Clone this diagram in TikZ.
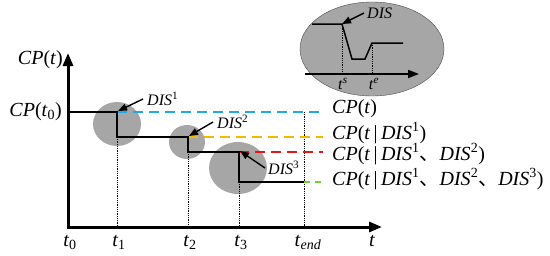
\documentclass[tikz,border=0pt]{standalone}
\usepackage{fontspec}
\setmainfont{Liberation Serif}
\newfontfamily\cjk{Noto Sans CJK SC}
\usetikzlibrary{arrows.meta}
\definecolor{dgray}{RGB}{166,166,166}
\definecolor{cblue}{RGB}{30,170,230}
\definecolor{corange}{RGB}{245,185,0}
\definecolor{cred}{RGB}{235,20,20}
\definecolor{cgreen}{RGB}{120,205,50}
\tikzset{
  big/.style={font=\fontsize{20}{24}\selectfont, inner sep=0pt},
  small/.style={font=\fontsize{16}{19}\selectfont, inner sep=0pt},
  axisline/.style={line width=3pt, -{Triangle[length=13pt,width=10pt]}},
  stepline/.style={line width=2.2pt},
  dashline/.style={line width=2.4pt, dash pattern=on 10pt off 6pt},
  guide/.style={line width=0.8pt, densely dotted},
  disarrow/.style={line width=1.4pt, -{Triangle[length=9pt,width=7pt]}},
  blob/.style={fill=dgray, draw=none},
}
\newcommand{\ii}[1]{\textit{#1}}
\newcommand{\sep}{{\cjk 、}}
\begin{document}
\begin{tikzpicture}[x=1pt,y=-1pt]
\useasboundingbox (0,0) rectangle (550,255);
% inset
\fill[dgray, draw=gray!60!black, line width=0.4pt] (372,49) ellipse [x radius=72, y radius=47];
\coordinate (ia) at (312,24);
\coordinate (ib) at (342,24);
\coordinate (ic) at (352,59);
\coordinate (id) at (365,59);
\coordinate (ie) at (372,43);
\coordinate (if) at (403,43);
\coordinate (iax0) at (305,74);
\coordinate (iax1) at (419,74);
\coordinate (ibs) at (342,74);
\coordinate (ies) at (372,74);
\draw[line width=1.5pt] (ia) -- (ib) -- (ic) -- (id) -- (ie) -- (if);
\draw[line width=2pt, -{Triangle[length=11pt,width=8pt]}] (iax0) -- (iax1);
\draw[guide] (ib) -- (ibs);
\draw[guide] (ie) -- (ies);
\node[small] (ts) at (343,84) {\ii{t}\textsuperscript{\ii{s}}};
\node[small] (te) at (374,84) {\ii{t}\textsuperscript{\ii{e}}};
\node[small, anchor=west] (idis) at (367,13) {\ii{DIS}};
\draw[disarrow] ([xshift=-3pt]idis.west) -- (ib);

% blobs
\fill[blob] (117,124) ellipse [x radius=24, y radius=22];
\fill[blob] (187,142) ellipse [x radius=18, y radius=17];
\fill[blob] (238,168) ellipse [x radius=29, y radius=26];

% axes
\coordinate (o) at (68,227);
\coordinate (ytop) at (68,53);
\coordinate (xend) at (382,227);
\draw[axisline] (o) -- (ytop);
\draw[axisline] ([xshift=-1.5pt]o) -- (xend);

% step points
\coordinate (s0) at (68,112);
\coordinate (s1) at (117,112);
\coordinate (s1b) at (117,137);
\coordinate (s2) at (188,137);
\coordinate (s2b) at (188,152);
\coordinate (s3) at (239,152);
\coordinate (s3b) at (239,182);
\coordinate (s4) at (304,182);

% guides
\draw[guide] (s1b) -- (117,227);
\draw[guide] (s2b) -- (188,227);
\draw[guide] (s3b) -- (239,227);
\draw[guide] (304,112) -- (304,227);

% dashed lines
\draw[dashline, cblue] (s1) -- (323,112);
\draw[dashline, corange] (s2) -- (323,137);
\draw[dashline, cred] (s3) -- (323,152);
\draw[dashline, cgreen, dash pattern=on 6pt off 5pt] (s4) -- (323,182);

% step function
\draw[stepline] (s0) -- (s1) -- (s1b) -- (s2) -- (s2b) -- (s3) -- (s3b) -- (s4);

% DIS labels
\node[small, anchor=west] (d1) at (147,99) {\ii{DIS}\textsuperscript{1}};
\node[small, anchor=west] (d2) at (217,122) {\ii{DIS}\textsuperscript{2}};
\node[small, anchor=west] (d3) at (268,168) {\ii{DIS}\textsuperscript{3}};
\draw[disarrow] ([xshift=-4pt]d1.west) -- ([xshift=1pt,yshift=1pt]s1);
\draw[disarrow] ([xshift=-4pt]d2.west) -- ([xshift=1pt,yshift=1pt]s2);
\draw[disarrow] ([xshift=-3pt]d3.west) -- ([xshift=1pt,yshift=1pt]s3);

% axis labels
\node[big, anchor=east] (ycp) at (63,60) {\ii{CP}(\ii{t})};
\node[big, anchor=east] (ycp0) at (62,112) {\ii{CP}(\ii{t}\textsubscript{0})};
\node[big] (t0) at (70,242) {\ii{t}\textsubscript{0}};
\node[big] (t1) at (119,242) {\ii{t}\textsubscript{1}};
\node[big] (t2) at (190,242) {\ii{t}\textsubscript{2}};
\node[big] (t3) at (241,242) {\ii{t}\textsubscript{3}};
\node[big] (tend) at (308,242) {\ii{t}\textsubscript{\ii{end}}};
\node[big] (tx) at (372,241) {\ii{t}};

% right labels
\node[big, anchor=west] (l1) at (332,109) {\ii{CP}(\ii{t})};
\node[big, anchor=west] (l2) at (332,133) {\ii{CP}(\ii{t}\,|\,\ii{DIS}\textsuperscript{1})};
\node[big, anchor=west] (l3) at (332,154) {\ii{CP}(\ii{t}\,|\,\ii{DIS}\textsuperscript{1}\sep\ii{DIS}\textsuperscript{2})};
\node[big, anchor=west] (l4) at (332,179) {\ii{CP}(\ii{t}\,|\,\ii{DIS}\textsuperscript{1}\sep\ii{DIS}\textsuperscript{2}\sep\ii{DIS}\textsuperscript{3})};
\end{tikzpicture}
\end{document}
